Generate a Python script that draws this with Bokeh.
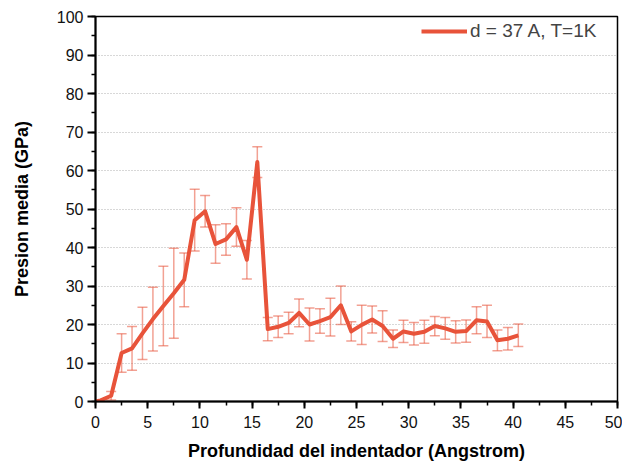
from bokeh.plotting import figure
from bokeh.models import (ColumnDataSource, Range1d, SingleIntervalTicker, Whisker,
                          TeeHead, Legend, LegendItem)
from bokeh.embed import file_html
from bokeh.resources import INLINE

# ---- data ----
depth = [0.0, 0.5, 1.5, 2.5, 3.5, 4.5, 5.5, 6.5, 7.5, 8.5, 9.5, 10.5, 11.5, 12.5,
         13.5, 14.5, 15.5, 16.5, 17.5, 18.5, 19.5, 20.5, 21.5, 22.5, 23.5, 24.5,
         25.5, 26.5, 27.5, 28.5, 29.5, 30.5, 31.5, 32.5, 33.5, 34.5, 35.5, 36.5,
         37.5, 38.5, 39.5, 40.5]
pressure = [0.0, 0.3, 1.5, 12.6, 13.8, 17.7, 21.4, 24.8, 28.1, 31.6, 47.1, 49.4,
            40.9, 42.1, 45.3, 36.8, 62.2, 18.8, 19.4, 20.4, 23.0, 20.0, 20.9, 21.9,
            25.0, 18.2, 19.9, 21.3, 19.6, 16.3, 18.2, 17.6, 18.1, 19.6, 19.0, 18.1,
            18.3, 21.1, 20.8, 15.9, 16.3, 17.2]
error = [0.0, 0.0, 1.1, 5.0, 5.7, 6.8, 8.3, 10.3, 11.7, 7.0, 8.0, 4.1, 5.0, 4.1,
         5.0, 5.0, 4.0, 3.0, 2.8, 2.8, 3.6, 4.3, 3.2, 4.9, 5.0, 2.5, 5.1, 3.5, 4.0,
         2.3, 2.9, 2.9, 3.0, 2.5, 2.8, 2.9, 2.9, 3.5, 4.2, 2.7, 2.9, 2.9]
x_ticks_interval = 5
y_ticks_interval = 10
series_label = "d = 37 A, T=1K"

LINE = "#E8533A"
FONT = "Liberation Sans"

src = ColumnDataSource(data=dict(x=depth, y=pressure))
ex = [d for d, e in zip(depth, error) if e > 0]
elo = [p - e for p, e in zip(pressure, error) if e > 0]
ehi = [p + e for p, e in zip(pressure, error) if e > 0]
esrc = ColumnDataSource(data=dict(x=ex, lower=elo, upper=ehi))

p = figure(width=622, height=464, output_backend="svg", toolbar_location=None,
           x_range=Range1d(0, 50), y_range=Range1d(0, 100),
           min_border_left=95, min_border_right=5, min_border_top=16, min_border_bottom=63)

p.background_fill_color = "white"
p.border_fill_color = "white"
p.outline_line_color = "black"
p.outline_line_width = 1.5

# error bars
wh = Whisker(source=esrc, base="x", upper="upper", lower="lower",
             line_color=LINE, line_alpha=0.55, line_width=1.5, level="underlay",
             upper_head=TeeHead(size=10, line_color=LINE, line_alpha=0.55, line_width=1.5),
             lower_head=TeeHead(size=10, line_color=LINE, line_alpha=0.55, line_width=1.5))
p.add_layout(wh)

r = p.line("x", "y", source=src, line_color=LINE, line_width=4, line_join="round")

# axes
p.xaxis.ticker = SingleIntervalTicker(interval=x_ticks_interval, num_minor_ticks=2)
p.yaxis.ticker = SingleIntervalTicker(interval=y_ticks_interval, num_minor_ticks=2)
for ax in (p.xaxis[0], p.yaxis[0]):
    ax.axis_line_color = "black"
    ax.axis_line_width = 2
    ax.major_tick_line_color = "black"
    ax.major_tick_line_width = 2
    ax.minor_tick_line_color = "black"
    ax.minor_tick_line_width = 1.5
    ax.major_tick_in = 0
    ax.major_tick_out = 8
    ax.minor_tick_in = 0
    ax.minor_tick_out = 4
    ax.major_label_text_font = FONT
    ax.major_label_text_font_size = "16px"
    ax.major_label_text_color = "#111111"
    ax.axis_label_text_font = FONT
    ax.axis_label_text_font_size = "18px"
    ax.axis_label_text_font_style = "bold"
    ax.axis_label_text_color = "black"

p.xaxis.axis_label = "Profundidad del indentador (Angstrom)"
p.yaxis.axis_label = "Presion media (GPa)"
p.xaxis.major_tick_out = 7
p.xaxis.major_label_standoff = 7
p.xaxis.axis_label_standoff = 10
p.yaxis.major_label_standoff = 4
p.yaxis.axis_label_standoff = 22

p.xgrid.grid_line_color = None
p.ygrid.grid_line_color = "#b0b0b0"
p.ygrid.grid_line_dash = "1 2"
p.ygrid.grid_line_width = 1

legend = Legend(items=[LegendItem(label=series_label, renderers=[r])],
                location="top_right", border_line_color=None,
                background_fill_alpha=0, label_text_font=FONT,
                label_text_font_size="19px", glyph_width=46, label_standoff=3,
                label_width=143, margin=4, padding=0, spacing=0)
p.add_layout(legend)

open("out.html", "w").write(file_html(p, INLINE))
